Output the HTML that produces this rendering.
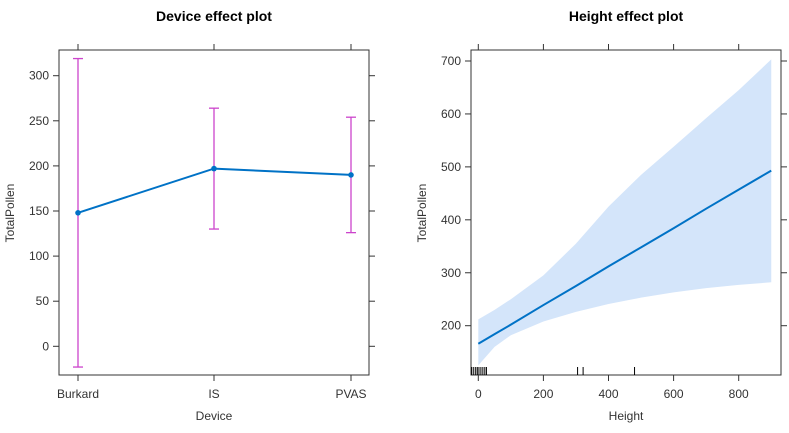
<!DOCTYPE html>
<html><head><meta charset="utf-8"><style>
body{margin:0;background:#fff;}
svg text{font-family:"Liberation Sans",Arial,sans-serif;fill:#333;}
</style></head><body>
<svg id="c" width="789" height="428" xmlns="http://www.w3.org/2000/svg">
<text x="214" y="21" text-anchor="middle" font-size="14" font-weight="bold" style="fill:#000">Device effect plot</text>
<text x="626" y="21" text-anchor="middle" font-size="14" font-weight="bold" style="fill:#000">Height effect plot</text>
<g id="L"></g>
<g id="R"></g>
</svg>
<script>
const categories=["Burkard","IS","PVAS"];
const fitValues=[148,197,190];
const lowerValues=[-23,130,126];
const upperValues=[319,264,254];
const leftTicks=[0,50,100,150,200,250,300];

const hX=[0,50,100,200,300,400,500,600,700,800,900];
const hFit=[166,184,202,239,275,312,348,384,421,457,493];
const hUpper=[212,230,250,295,355,425,485,538,592,645,703];
const hLower=[125,160,182,208,226,241,253,263,271,277,282];
const rightYTicks=[200,300,400,500,600,700];
const rightXTicks=[0,200,400,600,800];
const rugValues=[-20,-14,-8,-3,2,8,14,20,25,305,322,480];

const NS="http://www.w3.org/2000/svg";
function mk(p,t,a){const e=document.createElementNS(NS,t);for(const k in a)e.setAttribute(k,a[k]);p.appendChild(e);return e;}
// left
const L=document.getElementById('L');
const ly=v=>346.3-(v-0)*(346.3-75.7)/300;
const lx=i=>[78,214,351][i];
mk(L,'rect',{x:59,y:50,width:310,height:325,fill:'none',stroke:'#333','stroke-width':1});
leftTicks.forEach(t=>{
 let e=mk(L,'line',{x1:53,x2:59,y1:ly(t),y2:ly(t),stroke:'#333'});
 
 mk(L,'line',{x1:369,x2:375,y1:ly(t),y2:ly(t),stroke:'#333'});
 let tx=mk(L,'text',{x:49,y:ly(t)+4,'text-anchor':'end','font-size':12});tx.textContent=t;
 
});
categories.forEach((c,i)=>{
 mk(L,'line',{x1:lx(i),x2:lx(i),y1:375,y2:381,stroke:'#333'});
 mk(L,'line',{x1:lx(i),x2:lx(i),y1:44,y2:50,stroke:'#333'});
 let tx=mk(L,'text',{x:lx(i),y:398,'text-anchor':'middle','font-size':12});tx.textContent=c;
 
 const col='#cc44cc';
 let eb=mk(L,'line',{x1:lx(i),x2:lx(i),y1:ly(upperValues[i]),y2:ly(lowerValues[i]),stroke:col,'stroke-width':1.3});
 
 mk(L,'line',{x1:lx(i)-5,x2:lx(i)+5,y1:ly(upperValues[i]),y2:ly(upperValues[i]),stroke:col,'stroke-width':1.3});
 mk(L,'line',{x1:lx(i)-5,x2:lx(i)+5,y1:ly(lowerValues[i]),y2:ly(lowerValues[i]),stroke:col,'stroke-width':1.3});
});
let pl=mk(L,'polyline',{points:fitValues.map((v,i)=>lx(i)+','+ly(v)).join(' '),fill:'none',stroke:'#0072c6','stroke-width':2});

fitValues.forEach((v,i)=>{let p=mk(L,'circle',{cx:lx(i),cy:ly(v),r:2.8,fill:'#0072c6'});
 });
let t1=mk(L,'text',{x:214,y:420,'text-anchor':'middle','font-size':12});t1.textContent='Device';

let t2=mk(L,'text',{x:14,y:213,'text-anchor':'middle','font-size':12,transform:'rotate(-90 14 213)'});t2.textContent='TotalPollen';

// right
const R=document.getElementById('R');
const ry=v=>325.7-(v-200)*(325.7-61)/500;
const rx=v=>478.3+v*(738.7-478.3)/800;
let band=mk(R,'polygon',{points:hX.map((x,i)=>rx(x)+','+ry(hUpper[i])).concat(hX.slice().reverse().map((x,j)=>rx(x)+','+ry(hLower[hX.length-1-j]))).join(' '),fill:'#d4e5fa'});

let hl=mk(R,'polyline',{points:hX.map((x,i)=>rx(x)+','+ry(hFit[i])).join(' '),fill:'none',stroke:'#0072c6','stroke-width':2});

mk(R,'rect',{x:471,y:50,width:310,height:325,fill:'none',stroke:'#333','stroke-width':1});
rightYTicks.forEach(t=>{
 mk(R,'line',{x1:465,x2:471,y1:ry(t),y2:ry(t),stroke:'#333'});
 mk(R,'line',{x1:781,x2:787,y1:ry(t),y2:ry(t),stroke:'#333'});
 let tx=mk(R,'text',{x:461,y:ry(t)+4,'text-anchor':'end','font-size':12});tx.textContent=t;
 
});
rightXTicks.forEach(t=>{
 mk(R,'line',{x1:rx(t),x2:rx(t),y1:375,y2:381,stroke:'#333'});
 mk(R,'line',{x1:rx(t),x2:rx(t),y1:44,y2:50,stroke:'#333'});
 let tx=mk(R,'text',{x:rx(t),y:398,'text-anchor':'middle','font-size':12});tx.textContent=t;
 
});
rugValues.forEach(v=>{let r=mk(R,'line',{x1:rx(v),x2:rx(v),y1:367,y2:375,stroke:'#000','stroke-width':1});
 });
let t3=mk(R,'text',{x:626,y:420,'text-anchor':'middle','font-size':12});t3.textContent='Height';

let t4=mk(R,'text',{x:426,y:213,'text-anchor':'middle','font-size':12,transform:'rotate(-90 426 213)'});t4.textContent='TotalPollen';

</script>
</body></html>
